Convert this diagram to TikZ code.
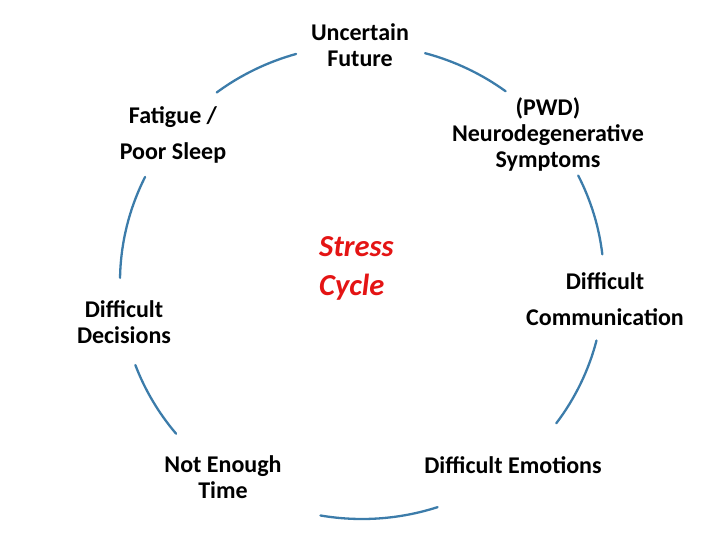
\documentclass[tikz,border=0pt]{standalone}
\usepackage{fontspec}
\setmainfont{Carlito}
\definecolor{arcblue}{RGB}{60,124,170}
\definecolor{stressred}{RGB}{228,20,20}
\tikzset{
  lbl/.style={align=center, inner sep=0pt, text=black, font=\fontsize{24bp}{26bp}\selectfont\bfseries},
  lblwide/.style={align=center, inner sep=0pt, text=black, font=\fontsize{24bp}{36bp}\selectfont\bfseries},
  cyc/.style={draw=arcblue, line width=2.3bp, line cap=round},
}
\begin{document}
\begin{tikzpicture}[x=1bp,y=-1bp]
\useasboundingbox (0,0) rectangle (720,540);
\coordinate (c) at (362,282);
% arcs of the cycle
\foreach \s/\e in {233.1/254.2, 285.1/306.4, 333.3/353.3, 14.3/36.6, 71.8/99.9, 140.2/159.5, 181/206.3}{
  \draw[cyc] (c) ++(\s:242 and 237) arc[start angle=\s, end angle=\e, x radius=242, y radius=237];
}
\node[lbl] (future) at (360,45) {Uncertain\\Future};
\node[lblwide] (fatigue) at (173,135) {Fatigue /\\Poor Sleep};
\node[lbl] (pwd) at (548,134) {(PWD)\\Neurodegenerative\\Symptoms};
\node[lblwide] (comm) at (605,299) {Difficult\\Communication};
\node[lbl] (dec) at (124,322) {Difficult\\Decisions};
\node[lbl] (time) at (223,477) {Not Enough\\Time};
\node[lbl] (emo) at (513,465) {Difficult Emotions};
\node[align=left, inner sep=0pt, anchor=west, text=stressred, font=\fontsize{30.5bp}{39bp}\selectfont\bfseries\itshape] (stress) at (319,268) {Stress\\Cycle};
\end{tikzpicture}
\end{document}
